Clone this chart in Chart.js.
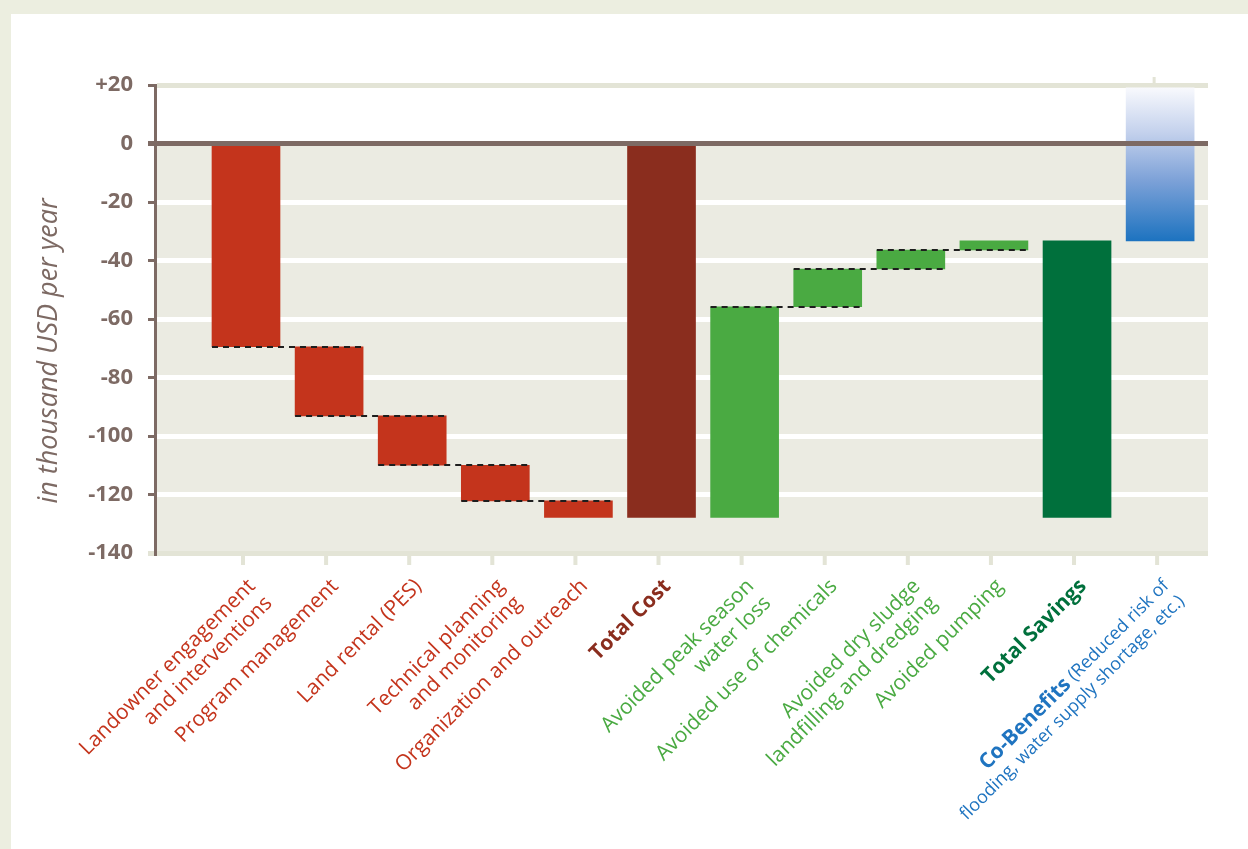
<!DOCTYPE html>
<html><head><meta charset="utf-8">
<script src="https://cdn.jsdelivr.net/npm/chart.js@4"></script>
<style>
html,body{margin:0;padding:0;background:#eceee0;overflow:hidden;}
#c{position:absolute;left:0;top:0;}
</style></head>
<body>
<canvas id="c" width="1248" height="849"></canvas>
<script>
// ---- data ----
const categories = [
  ["Landowner engagement", "and interventions"],
  ["Program management"],
  ["Land rental (PES)"],
  ["Technical planning", "and monitoring"],
  ["Organization and outreach"],
  ["Total Cost"],
  ["Avoided peak season", "water loss"],
  ["Avoided use of chemicals"],
  ["Avoided dry sludge", "landfilling and dredging"],
  ["Avoided pumping"],
  ["Total Savings"],
  ["Co-Benefits (Reduced risk of", "flooding, water supply shortage, etc.)"]
];
const boldText = ["", "", "", "", "", "Total Cost", "", "", "", "", "Total Savings", "Co-Benefits"];
const barStart = [0, -69.5, -93.1, -110.0, -122.2, 0, -127.8, -55.8, -42.9, -36.4, -127.8, -33.3];
const barEnd   = [-69.5, -93.1, -110.0, -122.2, -127.8, -127.8, -55.8, -42.9, -36.4, -33.3, -33.3, 19];
const yTickValues = [20, 0, -20, -40, -60, -80, -100, -120, -140];
const yTickLabels = ["+20", "0", "-20", "-40", "-60", "-80", "-100", "-120", "-140"];
const connectors = [[0,1],[1,2],[2,3],[3,4],[6,7],[7,8],[8,9]];
const yTitle = "in thousand USD per year";

// ---- styles ----
const RED = '#c4341c', DARKRED = '#8a2d1e', GREEN = '#4aaa42', DARKGREEN = '#00703c', BLUE = '#1f74c0';
const barColors = [RED, RED, RED, RED, RED, DARKRED, GREEN, GREEN, GREEN, GREEN, DARKGREEN, BLUE];
const labelColors = barColors;
const AXIS = '#7d6a64';
const BAND = '#e3e4d6';
const PLOTBG = '#ebebe2';

const bgPlugin = {
  id: 'bg',
  beforeDraw(chart) {
    const c = chart.ctx, ca = chart.chartArea, y = chart.scales.y;
    c.save();
    c.fillStyle = '#eceee0';
    c.fillRect(0, 0, chart.width, chart.height);
    c.fillStyle = '#ffffff';
    c.fillRect(11, 14, chart.width - 11, chart.height - 14);
    const y0 = y.getPixelForValue(0);
    c.fillStyle = PLOTBG;
    c.fillRect(ca.left, y0, ca.right - ca.left, ca.bottom - y0);
    c.restore();
  },
  afterDatasetsDraw(chart) {
    const c = chart.ctx, ca = chart.chartArea, y = chart.scales.y;
    const meta = chart.getDatasetMeta(0);
    c.save();
    c.strokeStyle = '#1e1e1e';
    c.lineWidth = 2;
    c.setLineDash([6, 5]);
    connectors.forEach(([a, b]) => {
      const ea = meta.data[a], eb = meta.data[b];
      const py = Math.round(y.getPixelForValue(barEnd[a]));
      c.beginPath();
      c.moveTo(ea.x - ea.width / 2, py);
      c.lineTo(eb.x + eb.width / 2, py);
      c.stroke();
    });
    c.setLineDash([]);
    const y0 = y.getPixelForValue(0);
    c.fillStyle = AXIS;
    c.fillRect(ca.left - 7, y0 - 2.5, ca.right - ca.left + 7, 5);
    c.restore();
  },
  afterDraw(chart) {
    const c = chart.ctx, ca = chart.chartArea, x = chart.scales.x;
    c.save();
    c.fillStyle = BAND;
    categories.forEach((_, i) => {
      const px = x.getPixelForValue(i) - 3;
      c.fillRect(px - 2, ca.bottom + 3, 4, 9);
    });
    const pl = x.getPixelForValue(categories.length - 1) - 6;
    c.fillRect(pl - 1.5, ca.top - 8, 3, 6);
    c.fillStyle = AXIS;
    c.font = 'italic 27px "Open Sans"';
    c.textAlign = 'center';
    c.textBaseline = 'middle';
    c.translate(49, 351);
    c.rotate(-Math.PI / 2);
    c.fillText(yTitle, 0, 0);
    c.restore();
    categories.forEach((lines, i) => {
      const px = x.getPixelForValue(i);
      const co = i === 11;
      c.save();
      c.translate(px + 6, 583);
      c.rotate(-Math.PI / 4);
      c.fillStyle = labelColors[i];
      c.textAlign = 'right';
      c.textBaseline = 'middle';
      const LH = co ? 22 : 24;
      const reg = co ? '18px "Open Sans"' : '21px "Open Sans"';
      const bold = '700 21px "Open Sans"';
      lines.forEach((line, li) => {
        const ly = li * LH;
        const b = boldText[i];
        if (li === 0 && b && line.startsWith(b)) {
          const rest = line.slice(b.length);
          c.font = reg;
          const wr = rest ? c.measureText(rest).width : 0;
          if (rest) c.fillText(rest, 0, ly);
          c.font = bold;
          c.fillText(b, -wr, ly);
        } else {
          c.font = reg;
          c.fillText(line, 0, ly);
        }
      });
      c.restore();
    });
  }
};

const ctx = document.getElementById('c').getContext('2d');
new Chart(ctx, {
  type: 'bar',
  data: {
    datasets: [{
      data: categories.map((_, i) => ({ x: i, y: [barStart[i], barEnd[i]] })),
      backgroundColor: (cx) => {
        const i = cx.dataIndex;
        if (i === 11) {
          const chart = cx.chart;
          if (!chart.chartArea || !chart.scales.y) return BLUE;
          const ys = chart.scales.y;
          const g = chart.ctx.createLinearGradient(0, ys.getPixelForValue(barEnd[11]), 0, ys.getPixelForValue(barStart[11]));
          g.addColorStop(0, '#f8f9fd');
          g.addColorStop(0.3, '#c2d0ec');
          g.addColorStop(0.6, '#7ea2d8');
          g.addColorStop(1, '#1d73c0');
          return g;
        }
        return barColors[i];
      },
      borderWidth: 0,
      borderSkipped: false,
      barThickness: 68
    }]
  },
  options: {
    responsive: false,
    devicePixelRatio: 1,
    animation: false,
    layout: { padding: { left: 0, top: 85, right: 40, bottom: 296 } },
    plugins: { legend: { display: false }, tooltip: { enabled: false } },
    scales: {
      x: {
        type: 'linear',
        offset: false,
        min: -1.095,
        max: 11.576,
        display: false
      },
      y: {
        min: -140,
        max: 20,
        afterFit: (s) => { s.width = 155; },
        afterBuildTicks: (s) => { s.ticks = yTickValues.map(v => ({ value: v })); },
        ticks: {
          stepSize: 20,
          padding: 15,
          color: AXIS,
          font: { family: '"Open Sans"', size: 22, weight: '700' },
          callback: (v) => yTickLabels[yTickValues.indexOf(v)]
        },
        border: { display: true, color: AXIS, width: 3 },
        grid: {
          lineWidth: 5,
          color: (cx) => {
            const v = cx.tick && cx.tick.value;
            if (v === 20 || v === -140) return BAND;
            if (v === 0) return AXIS;
            return '#ffffff';
          },
          tickLength: 7,
          tickColor: (cx) => (cx.tick && cx.tick.value === -140) ? BAND : AXIS,
          tickWidth: (cx) => (cx.tick && (cx.tick.value === 0 || cx.tick.value === -140)) ? 5 : 3
        }
      }
    }
  },
  plugins: [bgPlugin]
});
</script>
</body></html>
